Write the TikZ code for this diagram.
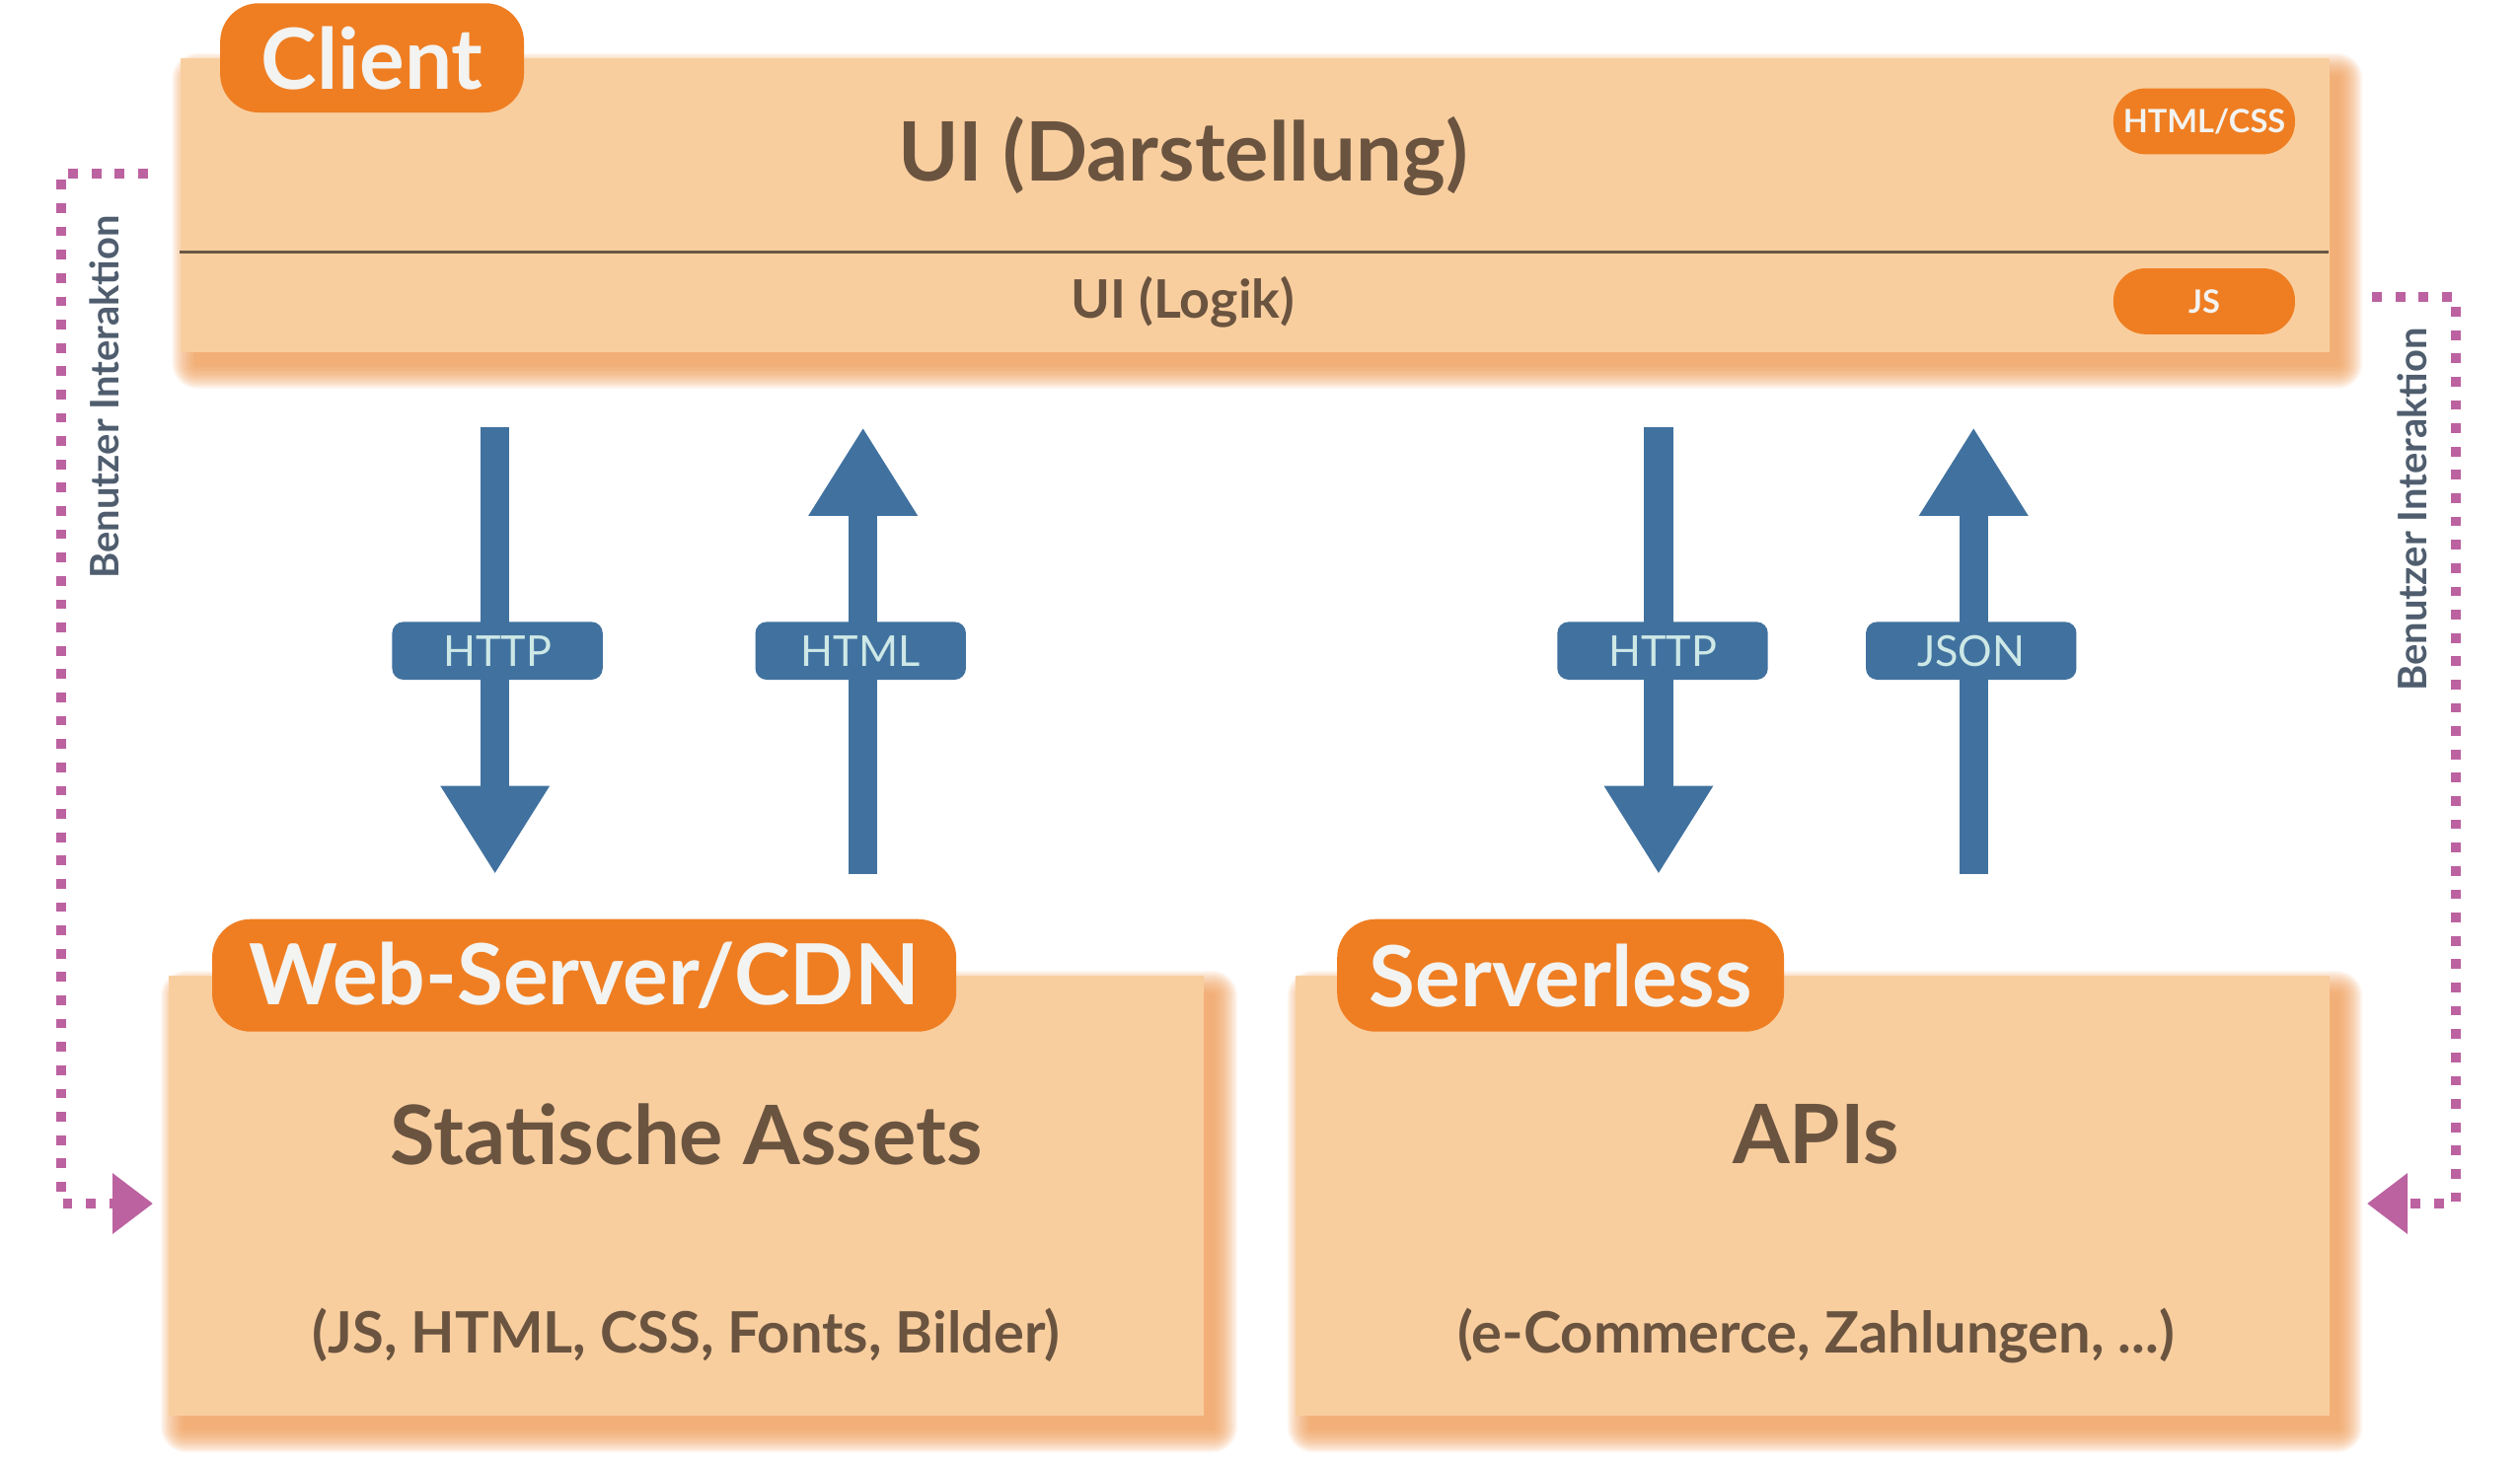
\documentclass[tikz,border=0pt]{standalone}
\usepackage{fontspec}
\setmainfont{Lato}
\usetikzlibrary{arrows.meta}
\definecolor{peach}{HTML}{F9CE9F}
\definecolor{tagorange}{HTML}{EF7E22}
\definecolor{txtbrown}{HTML}{6A5440}
\definecolor{linebrown}{HTML}{6B5844}
\definecolor{arrblue}{HTML}{41729F}
\definecolor{lbltxt}{HTML}{CDE8E6}
\definecolor{dotmag}{HTML}{BC62A0}
\definecolor{slate}{HTML}{4F5D6E}
\definecolor{shadorange}{HTML}{EE9850}
\definecolor{tagtxt}{HTML}{F3F3F1}
\newcommand\softshadow[4]{%
  \foreach \i in {1,...,20}{%
    \fill[shadorange, opacity=0.07, rounded corners=0.8*\i pt] (#1+10-0.75*\i,#2+12-0.75*\i) rectangle (#3+6+0.75*\i,#4+8+0.75*\i);
  }%
}
\tikzset{
  panel/.style={fill=peach, draw=none, inner sep=0pt, anchor=north west},
  tagbox/.style={fill=tagorange, text=tagtxt, rounded corners=24pt, inner sep=0pt,
    font=\bfseries\fontsize{52.5}{52.5}\selectfont},
  pill/.style={fill=tagorange, text=tagtxt, rounded corners=20pt, inner sep=0pt,
    minimum width=113pt, minimum height=41pt, font=\bfseries\fontsize{20}{20}\selectfont},
  bigtxt/.style={text=txtbrown, font=\bfseries\fontsize{51}{51}\selectfont},
  midtxt/.style={text=txtbrown, font=\bfseries\fontsize{35.5}{35.5}\selectfont},
  flowarrow/.style={draw=arrblue, line width=18pt, -{Triangle[length=55pt,width=64pt]}},
  lbl/.style={fill=arrblue, text=lbltxt, rounded corners=7pt, inner sep=0pt,
    minimum width=131pt, minimum height=36pt, font=\fontsize{26.5}{26.5}\selectfont},
  dotline/.style={draw=dotmag, line width=6pt, dash pattern=on 6pt off 8.5pt},
  dottip/.style={fill=dotmag, draw=none},
  vtxt/.style={text=slate, rotate=90, font=\bfseries\fontsize{24.5}{24.5}\selectfont}
}
\begin{document}
\begin{tikzpicture}[x=1pt,y=-1pt]
\useasboundingbox (0,0) rectangle (1568,910);
% shadows
\softshadow{112}{36}{1449}{219}
\softshadow{105}{607}{749}{881}
\softshadow{806}{607}{1449}{881}
% panels
\node[panel, minimum width=1337pt, minimum height=183pt] (client) at (112,36) {};
\node[panel, minimum width=644pt, minimum height=274pt] (webbox) at (105,607) {};
\node[panel, minimum width=643pt, minimum height=274pt] (srvbox) at (806,607) {};
\coordinate (divl) at (112,157);
\coordinate (divr) at (1449,157);
\draw[linebrown, line width=2pt] (divl) -- (divr);
% tags
\node[tagbox, minimum width=189pt, minimum height=68pt] (clienttag) at (231.5,36) {Client};
\node[tagbox, minimum width=463pt, minimum height=70pt] (webtag) at (363.5,607) {Web-Server/CDN};
\node[tagbox, minimum width=278pt, minimum height=70pt] (srvtag) at (971,607) {Serverless};
% client texts
\node[bigtxt] (uidar) at (736,97) {UI (Darstellung)};
\node[midtxt, font=\bfseries\fontsize{33}{33}\selectfont] (uilog) at (736,188) {UI (Logik)};
\node[pill] (htmlcss) at (1371.5,75.5) {HTML/CSS};
\node[pill] (js) at (1371.5,187.5) {JS};
% box texts
\node[bigtxt] (stat) at (427,706) {Statische Assets};
\node[midtxt] (statsub) at (427,831) {(JS, HTML, CSS, Fonts, Bilder)};
\node[bigtxt] (apis) at (1130,706) {APIs};
\node[midtxt] (apisub) at (1130,831) {(e-Commerce, Zahlungen, ...)};
% arrows
\coordinate (a1s) at (308,266); \coordinate (a1e) at (308,544);
\coordinate (a2s) at (537,544); \coordinate (a2e) at (537,266);
\coordinate (a3s) at (1032,266); \coordinate (a3e) at (1032,544);
\coordinate (a4s) at (1228,544); \coordinate (a4e) at (1228,266);
\draw[flowarrow] (a1s) -- (a1e);
\draw[flowarrow] (a2s) -- (a2e);
\draw[flowarrow] (a3s) -- (a3e);
\draw[flowarrow] (a4s) -- (a4e);
\node[lbl] (l1) at (309.5,405) {HTTP};
\node[lbl] (l2) at (535.5,405) {HTML};
\node[lbl] (l3) at (1034.5,405) {HTTP};
\node[lbl] (l4) at (1226.5,405) {JSON};
% user interaction loops
\coordinate (d1a) at (92,108); \coordinate (d1b) at (38,108);
\coordinate (d1c) at (38,749); \coordinate (d1d) at (70,749);
\draw[dotline] (d1a) -- (d1b) -- (d1c) -- (d1d);
\fill[dottip] (70,730) -- (95,749) -- (70,768) -- cycle;
\node[vtxt] (bi1) at (65,247) {Benutzer Interaktion};
\coordinate (d2a) at (1476,185); \coordinate (d2b) at (1528,185);
\coordinate (d2c) at (1528,749); \coordinate (d2d) at (1498,749);
\draw[dotline] (d2a) -- (d2b) -- (d2c) -- (d2d);
\fill[dottip] (1498,730) -- (1473,749) -- (1498,768) -- cycle;
\node[vtxt] (bi2) at (1501,317) {Benutzer Interaktion};
\end{tikzpicture}
\end{document}
